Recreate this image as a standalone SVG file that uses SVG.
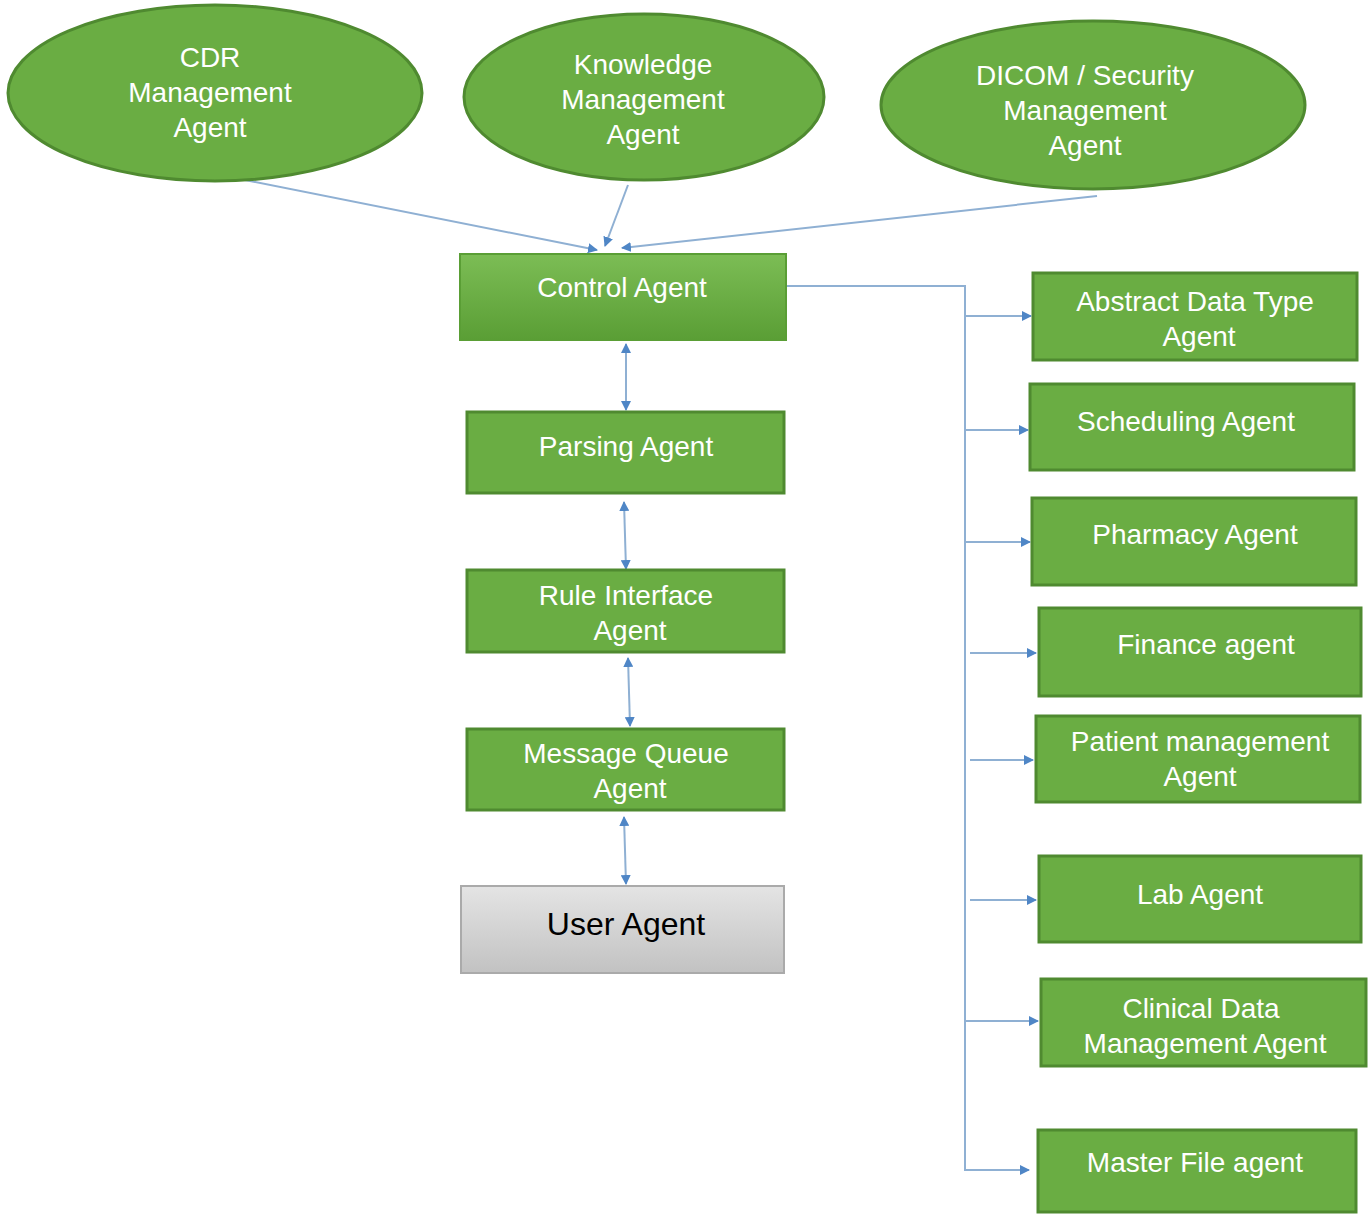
<svg xmlns="http://www.w3.org/2000/svg" width="1371" height="1217" viewBox="0 0 1371 1217">
<style>
.el{fill:#6aad43;stroke:#4f8a30;stroke-width:3}
.bx{fill:#6aad43;stroke:#4f8a30;stroke-width:3}
.t{font-family:"Liberation Sans",Arial,sans-serif;font-size:28px;fill:#fff;text-anchor:middle}
.c{stroke:#8fb0d3;stroke-width:2;fill:none}
</style>
<defs>
<marker id="a" markerWidth="10" markerHeight="10" refX="9" refY="5" orient="auto-start-reverse" markerUnits="userSpaceOnUse"><path d="M0,0L10,5L0,10z" fill="#4f86c6"/></marker>
<linearGradient id="g1" x1="0" y1="0" x2="0" y2="1"><stop offset="0" stop-color="#7cbd55"/><stop offset="1" stop-color="#5a9e35"/></linearGradient>
<linearGradient id="g2" x1="0" y1="0" x2="0" y2="1"><stop offset="0" stop-color="#e4e4e4"/><stop offset="1" stop-color="#c2c2c2"/></linearGradient>
</defs>
<rect width="1371" height="1217" fill="#fff"/>
<g id="connectors">
<line class="c" x1="245" y1="180" x2="597" y2="250" marker-end="url(#a)"/>
<line class="c" x1="628" y1="185" x2="605" y2="246" marker-end="url(#a)"/>
<line class="c" x1="1097" y1="196" x2="622" y2="248" marker-end="url(#a)"/>
<line class="c" x1="626" y1="344" x2="626" y2="410" marker-start="url(#a)" marker-end="url(#a)"/>
<line class="c" x1="624" y1="502" x2="626" y2="569" marker-start="url(#a)" marker-end="url(#a)"/>
<line class="c" x1="628" y1="658" x2="630" y2="726" marker-start="url(#a)" marker-end="url(#a)"/>
<line class="c" x1="624" y1="817" x2="626" y2="884" marker-start="url(#a)" marker-end="url(#a)"/>
<polyline class="c" points="786,286 965,286 965,1170 1029,1170" marker-end="url(#a)"/>
<line class="c" x1="965" y1="316" x2="1031" y2="316" marker-end="url(#a)"/>
<line class="c" x1="965" y1="430" x2="1028" y2="430" marker-end="url(#a)"/>
<line class="c" x1="965" y1="542" x2="1030" y2="542" marker-end="url(#a)"/>
<line class="c" x1="970" y1="653" x2="1036" y2="653" marker-end="url(#a)"/>
<line class="c" x1="970" y1="760" x2="1033" y2="760" marker-end="url(#a)"/>
<line class="c" x1="970" y1="900" x2="1036" y2="900" marker-end="url(#a)"/>
<line class="c" x1="965" y1="1021" x2="1038" y2="1021" marker-end="url(#a)"/>
</g>
<g id="cdr"><ellipse class="el" cx="215" cy="93" rx="207" ry="88"/><text class="t" x="210" y="67">CDR</text><text class="t" x="210" y="102">Management</text><text class="t" x="210" y="137">Agent</text></g>
<g id="km"><ellipse class="el" cx="644" cy="97" rx="180" ry="83"/><text class="t" x="643" y="74">Knowledge</text><text class="t" x="643" y="109">Management</text><text class="t" x="643" y="144">Agent</text></g>
<g id="dicom"><ellipse class="el" cx="1093" cy="105" rx="212" ry="84"/><text class="t" x="1085" y="85">DICOM / Security</text><text class="t" x="1085" y="120">Management</text><text class="t" x="1085" y="155">Agent</text></g>
<g id="control"><rect x="460" y="254" width="326" height="86" fill="url(#g1)" stroke="#5a9e35" stroke-width="2"/><text class="t" x="622" y="297">Control Agent</text></g>
<g id="parsing"><rect class="bx" x="467" y="412" width="317" height="81"/><text class="t" x="626" y="456">Parsing Agent</text></g>
<g id="rule"><rect class="bx" x="467" y="570" width="317" height="82"/><text class="t" x="626" y="605">Rule Interface</text><text class="t" x="630" y="640">Agent</text></g>
<g id="mq"><rect class="bx" x="467" y="729" width="317" height="81"/><text class="t" x="626" y="763">Message Queue</text><text class="t" x="630" y="798">Agent</text></g>
<g id="user"><rect x="461" y="886" width="323" height="87" fill="url(#g2)" stroke="#aaa" stroke-width="2"/><text class="t" x="626" y="935" style="fill:#000;font-size:32px">User Agent</text></g>
<g id="adt"><rect class="bx" x="1033" y="273" width="324" height="87"/><text class="t" x="1195" y="311">Abstract Data Type</text><text class="t" x="1199" y="346">Agent</text></g>
<g id="sched"><rect class="bx" x="1030" y="384" width="324" height="86"/><text class="t" x="1186" y="431">Scheduling Agent</text></g>
<g id="pharm"><rect class="bx" x="1032" y="498" width="324" height="87"/><text class="t" x="1195" y="544">Pharmacy Agent</text></g>
<g id="fin"><rect class="bx" x="1039" y="608" width="322" height="88"/><text class="t" x="1206" y="654">Finance agent</text></g>
<g id="patient"><rect class="bx" x="1036" y="716" width="324" height="86"/><text class="t" x="1200" y="751">Patient management</text><text class="t" x="1200" y="786">Agent</text></g>
<g id="lab"><rect class="bx" x="1039" y="856" width="322" height="86"/><text class="t" x="1200" y="904">Lab Agent</text></g>
<g id="clin"><rect class="bx" x="1041" y="979" width="325" height="87"/><text class="t" x="1201" y="1018">Clinical Data</text><text class="t" x="1205" y="1053">Management Agent</text></g>
<g id="master"><rect class="bx" x="1038" y="1130" width="318" height="82"/><text class="t" x="1195" y="1172">Master File agent</text></g>
</svg>
